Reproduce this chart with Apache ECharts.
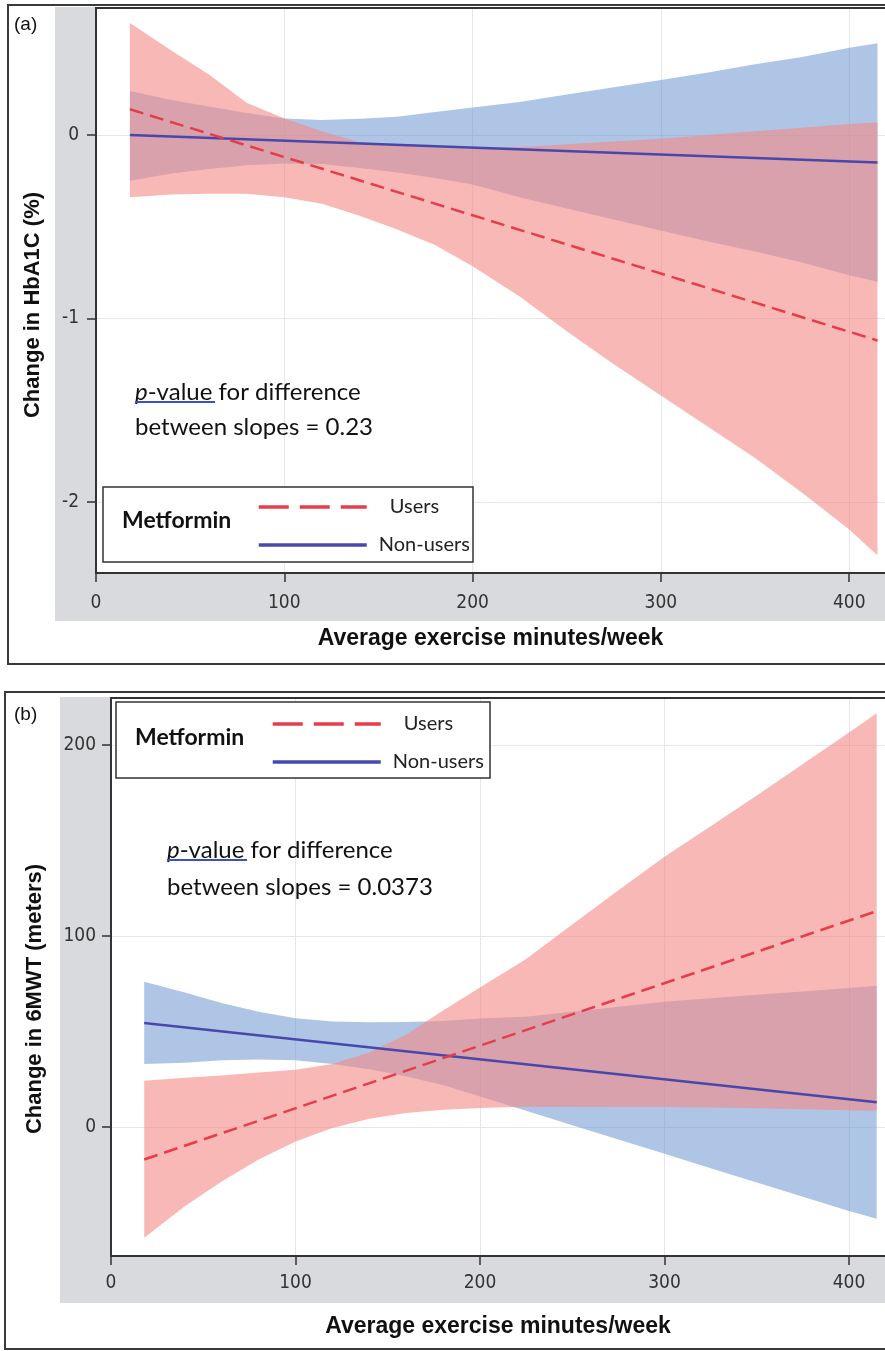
<!DOCTYPE html>
<html><head><meta charset="utf-8">
<script src="https://cdn.jsdelivr.net/npm/echarts@6/dist/echarts.min.js"></script>
<style>html,body{margin:0;padding:0;background:#fff}#c{width:885px;height:1351px}</style>
</head><body><div id="c"></div>
<script>
// ---------- data ----------
const bandX = [18, 40, 60, 80, 100, 120, 140, 160, 180, 200, 225, 250, 275, 300, 325, 350, 375, 400, 415];
const fitX = [18, 415];
const minuteTicks = [0, 100, 200, 300, 400];

// Panel (a): Change in HbA1C (%)
const hbTicks = [-2, -1, 0];
const hbNonUsersFit = [0.0, -0.15];
const hbUsersFit = [0.14, -1.12];
const hbNonUsersUpper = [0.24, 0.19, 0.155, 0.12, 0.09, 0.082, 0.088, 0.10, 0.125, 0.15, 0.18, 0.22, 0.26, 0.30, 0.34, 0.385, 0.425, 0.475, 0.50];
const hbNonUsersLower = [-0.25, -0.21, -0.185, -0.165, -0.155, -0.158, -0.18, -0.205, -0.235, -0.27, -0.34, -0.40, -0.46, -0.52, -0.58, -0.635, -0.695, -0.765, -0.80];
const hbUsersUpper = [0.61, 0.46, 0.33, 0.175, 0.09, 0.02, -0.04, -0.055, -0.065, -0.07, -0.065, -0.05, -0.035, -0.02, 0.0, 0.02, 0.04, 0.06, 0.07];
const hbUsersLower = [-0.34, -0.325, -0.32, -0.32, -0.34, -0.375, -0.44, -0.515, -0.60, -0.715, -0.88, -1.07, -1.25, -1.42, -1.59, -1.76, -1.95, -2.15, -2.29];

// Panel (b): Change in 6MWT (meters)
const mwtTicks = [0, 100, 200];
const mwtNonUsersFit = [54.5, 13];
const mwtUsersFit = [-17, 113];
const mwtNonUsersUpper = [76, 70.5, 65, 60.4, 57, 55.2, 54.8, 55, 55.5, 56.8, 57.8, 60.3, 63, 65.6, 67.4, 69.2, 71, 72.8, 74];
const mwtNonUsersLower = [33, 33.6, 35, 35.4, 35, 33, 30.2, 26.4, 22, 16, 8.5, 1, -6.5, -14, -21.5, -29, -36.5, -44, -48];
const mwtUsersUpper = [24.3, 25.8, 27, 28.5, 30, 33, 39, 48.5, 61, 73, 88, 106, 124, 141.5, 157.5, 173.5, 190, 206.5, 216.6];
const mwtUsersLower = [-58, -41.5, -28.5, -17, -7.5, -0.5, 4.3, 7.3, 9, 10, 10.6, 10.6, 10.5, 10.5, 10.2, 9.8, 9.3, 8.8, 8.5];

// ---------- styles ----------
const BLUE_BAND = 'rgba(110,150,210,0.55)';
const PINK_BAND = 'rgba(243,137,132,0.6)';
const BLUE_LINE = '#4848ac';
const RED_LINE = '#e63c4b';
const TICK_FONT = {fontFamily: "'DejaVu Sans Condensed','Liberation Sans Narrow',sans-serif", fontSize: 19, color: '#333'};
const SANS = "'Liberation Sans',Arial,sans-serif";
const NOTE_FONT = "Lato,'Open Sans',sans-serif";

function pairs(xs, ys) { return xs.map((x, i) => [x, ys[i]]); }

// confidence band drawn as one polygon through the axis scales
function band(gi, lower, upper, color) {
  return {
    type: 'custom', xAxisIndex: gi, yAxisIndex: gi, silent: true, z: 1, clip: true,
    data: pairs(bandX, upper),
    encode: {x: 0, y: 1},
    renderItem: function (params, api) {
      if (params.dataIndex !== 0) return null;
      const top = bandX.map((x, i) => api.coord([x, upper[i]]));
      const bot = bandX.map((x, i) => api.coord([x, lower[i]])).reverse();
      return {type: 'polygon', shape: {points: top.concat(bot)}, style: {fill: color}};
    }
  };
}
function fitLine(gi, name, ys, color, dashed) {
  return {type: 'line', name: name, xAxisIndex: gi, yAxisIndex: gi, symbol: 'none', silent: true,
    lineStyle: {color: color, width: 2.5, type: dashed ? [14, 7] : 'solid'}, itemStyle: {color: color},
    data: pairs(fitX, ys), z: 3};
}
function xAxisDef(gi, max, labelMargin) {
  return {gridIndex: gi, type: 'value', min: 0, max: max, splitNumber: 4,
    axisLine: {show: true, onZero: false, lineStyle: {color: '#333', width: 2}},
    axisTick: {show: true, length: 9, customValues: minuteTicks, lineStyle: {color: '#333', width: 1.5}},
    axisLabel: Object.assign({customValues: minuteTicks, margin: labelMargin}, TICK_FONT),
    splitLine: {show: true, lineStyle: {color: '#e6e7ea', width: 1}},
    name: 'Average exercise minutes/week', nameLocation: 'middle', nameGap: gi === 0 ? 54 : 59,
    nameTextStyle: {fontFamily: SANS, fontWeight: 'bold', fontSize: 23, color: '#111'}};
}
function yAxisDef(gi, min, max, ticks, labelMargin) {
  return {gridIndex: gi, type: 'value', min: min, max: max, splitNumber: 3,
    axisLine: {show: true, onZero: false, lineStyle: {color: '#333', width: 2}},
    axisTick: {show: true, length: 9, customValues: ticks, lineStyle: {color: '#333', width: 1.5}},
    axisLabel: Object.assign({customValues: ticks, margin: labelMargin}, TICK_FONT),
    splitLine: {show: true, lineStyle: {color: '#e6e7ea', width: 1}}};
}
function legendDef(left, top) {
  return {left: left, top: top, orient: 'vertical', padding: 0, itemWidth: 108, itemHeight: 20, itemGap: 18,
    itemStyle: {opacity: 0},
    textStyle: {fontFamily: NOTE_FONT, fontSize: 20, color: '#222', lineHeight: 20},
    data: [
      {name: 'Users', lineStyle: {type: [30, 11], width: 3.5}, textStyle: {padding: [0, 0, 0, 18]}},
      {name: 'Non-users', lineStyle: {width: 3.5}, textStyle: {padding: [0, 0, 0, 7]}}
    ]};
}
function noteTexts(x, y1, y2, pval, ux2) {
  return [
    {type: 'text', x: x, y: y1, z: 10, style: {text: '{i|p}-value for difference', fontFamily: NOTE_FONT, fontSize: 24, fill: '#111',
      verticalAlign: 'middle', rich: {i: {fontStyle: 'italic', fontFamily: NOTE_FONT, fontSize: 24, fill: '#111'}}}},
    {type: 'text', x: x, y: y2, z: 10, style: {text: 'between slopes = ' + pval, fontFamily: NOTE_FONT, fontSize: 24, fill: '#111', verticalAlign: 'middle'}},
    {type: 'line', z: 10, shape: {x1: x, y1: y1 + 10, x2: ux2, y2: y1 + 10}, style: {stroke: '#3b50c4', lineWidth: 2}}
  ];
}

const chart = echarts.init(document.getElementById('c'), null, {renderer: 'canvas'});
const option = {
  animation: false,
  backgroundColor: '#fff',
  grid: [
    {left: 96, top: 8, width: 789, height: 565, show: true, backgroundColor: '#fff', borderWidth: 0},
    {left: 111, top: 698, width: 774, height: 558, show: true, backgroundColor: '#fff', borderWidth: 0}
  ],
  xAxis: [xAxisDef(0, 419, 21), xAxisDef(1, 419.5, 18)],
  yAxis: [yAxisDef(0, -2.387, 0.692, hbTicks, 17), yAxisDef(1, -67.5, 224.6, mwtTicks, 15)],
  legend: [legendDef(257, 497), legendDef(271, 714)],
  series: [
    band(0, hbNonUsersLower, hbNonUsersUpper, BLUE_BAND),
    band(0, hbUsersLower, hbUsersUpper, PINK_BAND),
    fitLine(0, 'Non-users', hbNonUsersFit, BLUE_LINE, false),
    fitLine(0, 'Users', hbUsersFit, RED_LINE, true),
    band(1, mwtNonUsersLower, mwtNonUsersUpper, BLUE_BAND),
    band(1, mwtUsersLower, mwtUsersUpper, PINK_BAND),
    fitLine(1, 'Non-users', mwtNonUsersFit, BLUE_LINE, false),
    fitLine(1, 'Users', mwtUsersFit, RED_LINE, true)
  ],
  graphic: {elements: [].concat([
    // panel (a) frame and wall
    {type: 'rect', z: -20, shape: {x: 8, y: 5, width: 900, height: 659}, style: {fill: '#fff', stroke: '#3a3a3a', lineWidth: 2}},
    {type: 'rect', z: -19, shape: {x: 55, y: 7, width: 840, height: 614}, style: {fill: '#d9dadd'}},
    {type: 'line', z: 10, shape: {x1: 95, y1: 8, x2: 885, y2: 8}, style: {stroke: '#333', lineWidth: 2}},
    {type: 'text', z: 10, x: 14, y: 25, style: {text: '(a)', fontFamily: SANS, fontSize: 19, fill: '#111', verticalAlign: 'middle'}},
    {type: 'text', z: 10, x: 33, y: 305, rotation: Math.PI / 2, style: {text: 'Change in HbA1C (%)', align: 'center', verticalAlign: 'middle', fill: '#111', fontFamily: SANS, fontWeight: 'bold', fontSize: 22}},
    {type: 'rect', z: 3, shape: {x: 103, y: 487, width: 370, height: 75}, style: {fill: '#fff', stroke: '#333', lineWidth: 1.5}},
    {type: 'text', z: 10, x: 122, y: 521, style: {text: 'Metformin', fontFamily: NOTE_FONT, fontWeight: 'bold', fontSize: 23, fill: '#111', verticalAlign: 'middle'}},
    // panel (b) frame and wall
    {type: 'rect', z: -20, shape: {x: 5, y: 692, width: 900, height: 657}, style: {fill: '#fff', stroke: '#3a3a3a', lineWidth: 2}},
    {type: 'rect', z: -19, shape: {x: 60, y: 697, width: 840, height: 606}, style: {fill: '#d9dadd'}},
    {type: 'line', z: 10, shape: {x1: 110, y1: 698, x2: 885, y2: 698}, style: {stroke: '#333', lineWidth: 2}},
    {type: 'text', z: 10, x: 14, y: 715, style: {text: '(b)', fontFamily: SANS, fontSize: 19, fill: '#111', verticalAlign: 'middle'}},
    {type: 'text', z: 10, x: 35, y: 999, rotation: Math.PI / 2, style: {text: 'Change in 6MWT (meters)', align: 'center', verticalAlign: 'middle', fill: '#111', fontFamily: SANS, fontWeight: 'bold', fontSize: 22}},
    {type: 'rect', z: 3, shape: {x: 116, y: 702, width: 374, height: 76}, style: {fill: '#fff', stroke: '#333', lineWidth: 1.5}},
    {type: 'text', z: 10, x: 135, y: 738, style: {text: 'Metformin', fontFamily: NOTE_FONT, fontWeight: 'bold', fontSize: 23, fill: '#111', verticalAlign: 'middle'}}
  ],
  noteTexts(135, 392, 427, '0.23', 215),
  noteTexts(167, 850, 887, '0.0373', 247)
  )}
};
chart.setOption(option);
</script>
</body></html>
